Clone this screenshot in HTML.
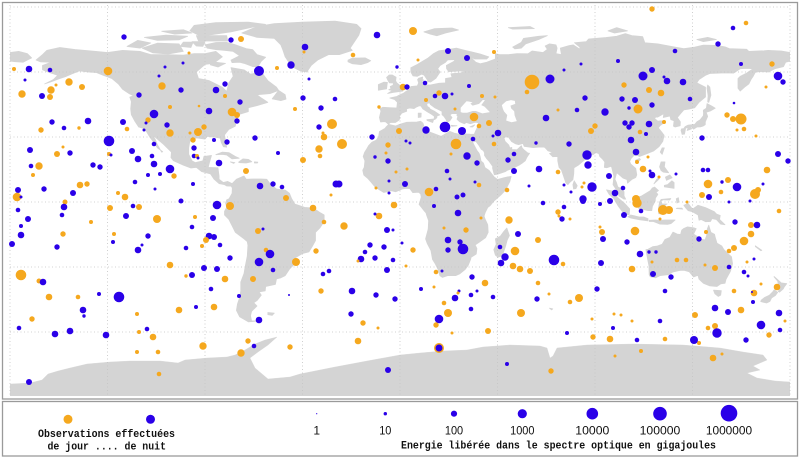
<!DOCTYPE html>
<html><head><meta charset="utf-8"><style>
html,body{margin:0;padding:0;background:#fff;}
svg{display:block;}
.o{fill:#f5a81e}
.b{fill:#2a00e8}
.l{fill:#d4d4d4;stroke:#d4d4d4;stroke-width:0.35;stroke-linejoin:round}
.w{fill:#fff}
.g{stroke:#c4c4c4;stroke-width:0.8;stroke-dasharray:1 2.5;fill:none}
.mono{font-family:"Liberation Mono",monospace;font-weight:bold;font-size:11px;fill:#111}
.num{font-family:"Liberation Sans",sans-serif;font-size:12px;fill:#111}
</style></head><body>
<svg width="800" height="458" viewBox="0 0 800 458" xmlns="http://www.w3.org/2000/svg">
<defs><clipPath id="mc"><rect x="10" y="5" width="780" height="391"/></clipPath></defs>
<rect x="0" y="0" width="800" height="458" fill="#fff"/>
<g clip-path="url(#mc)">
<g transform="translate(400,202) scale(2.1667,-2.1667)">
<!-- North America -->
<polygon class="l" points="-168,65.5 -165,68 -163,70 -157,71.3 -150,70.4 -141,69.6 -135,69 -128,70 -120,69.5 -115,68 -108,68 -100,67.8 -95,68.5 -90,68.5 -85,69.5 -82,67 -86,64 -90,63.5 -94,60 -93,57 -88,56 -82,53 -80,51 -79,55 -77,58 -78,62 -72,61 -69,59 -64,60 -61,56 -57,53 -56,51.5 -60,50 -66,49.5 -64,48 -61,46 -66,44.5 -70,43.5 -70,41.7 -74,40.5 -75.5,38 -76,35 -79,33.5 -81,31 -80.5,28 -80,25.3 -81.5,25.5 -82.5,27.5 -83,29.5 -85,29.8 -89,30.3 -90,29 -94,29.6 -97,28 -97.5,25 -97.5,22 -96,19 -94.5,18.2 -91,19 -90.5,21 -87,21.5 -88,18 -88.5,16 -84,15.8 -83.5,12 -83.5,10.5 -81.5,9 -79.5,9.5 -77.5,8.5 -78,7.3 -80,7.4 -81,8 -83.5,8.5 -85.8,10.5 -87.5,13 -91.5,14 -94,16 -96.5,15.7 -100,17 -104.5,19 -105.7,20.5 -105.5,23 -109,26.5 -112.5,29.5 -114.7,31.5 -113,29 -112,26.5 -110,23 -109.5,23.2 -112,25 -114,28 -115.5,30 -117,32.5 -118.5,34 -120.6,34.6 -122.5,37.5 -124,40.3 -124.3,43 -124,46.3 -124.7,48.4 -123,49 -125,50 -128,52 -130,54.5 -133,57 -137,58.5 -140,59.7 -144,60 -148,60.5 -151,59.3 -154,58 -157,57 -161,55.5 -164,54.5 -160,56.5 -158,58.5 -162,59.8 -165,61 -165,63 -161,64.5 -166,64.7"/>
<polygon class="l" points="-180,65 -180,69 -176,69.5 -172,68.5 -170,66.5 -172,65.5 -174,64.5 -178,64.8"/>
<!-- Arctic archipelago -->
<polygon class="l" points="-80,73.7 -76,72.6 -71,70.8 -68,70.3 -66,68 -62,66.8 -64,65 -65.5,62.5 -68,62.5 -72,64 -74,64.5 -77.5,64.3 -78,65.5 -74,67.5 -77,69.5 -81,70 -85,70.3 -89,71 -90,72.5 -85,73.6"/>
<polygon class="l" points="-119,71 -112,73.3 -102,73 -100,69.5 -107,68.3 -114,68.8"/>
<polygon class="l" points="-126,71.8 -121,74.6 -115,73.4 -120,71"/>
<polygon class="l" points="-92,76.5 -78,78.5 -62,82 -70,83 -85,82.8 -95,81.5 -97,79"/>
<polygon class="l" points="-94,76.8 -80,76.8 -79.5,74.3 -93,74.3"/>
<polygon class="l" points="-118,76 -108,77 -98,76.5 -102,74.8 -112,74.6"/>
<polygon class="l" points="-110,78.8 -100,79.5 -96,78 -104,77.5"/>
<polygon class="l" points="-101.5,71.8 -100,73.8 -95.5,73.8 -96.5,71.3"/>
<polygon class="l" points="-96,74 -90,74 -91,71.8 -94,72"/>
<polygon class="l" points="-87.5,64.8 -80.5,64 -84,62.3 -87.5,63.3"/>
<!-- Greenland, Iceland -->
<polygon class="l" points="-73,78 -66,81 -58,82.3 -45,83 -30,83.5 -20,82 -18,80 -19,77 -21,74 -23,71 -22,70 -28,68 -33,68 -38,65.5 -41,63 -43,60 -46,60.5 -49,62 -51,64 -53,67 -54,70 -55,72.5 -58,75.5 -66,76"/>
<polygon class="l" points="-24,65.5 -22,66.4 -16,66.5 -13.5,65.2 -15,64.3 -18,63.4 -22,63.8 -24,64.7"/>
<polygon class="l" points="-59,47.6 -56,51.5 -53,49.5 -52.6,47.5 -55,46.8"/>
<!-- Caribbean -->
<polygon class="l" points="-85,21.9 -82,23 -79,22.8 -76,21 -74.2,20.2 -77.5,19.9 -80,21.7 -82,22 -84.9,21.8"/>
<polygon class="l" points="-74.4,18.5 -72.5,19.9 -70,19.7 -68.4,18.6 -71,18 -74.4,18.2"/>
<polygon class="l" points="-78.3,18.5 -76.2,18.2 -76.8,17.8"/>
<polygon class="l" points="-67.2,18.5 -65.6,18.4 -65.8,18 -67.2,18"/>
<!-- South America -->
<polygon class="l" points="-77.5,8.5 -75.5,10.5 -72,12 -71,10.5 -68,10.6 -64,10.6 -61.5,10.5 -60,8.5 -57,6 -53,5.5 -51,4 -50,1.5 -48.5,-1 -44,-2.5 -40,-2.8 -37,-4.8 -35,-6 -35,-9 -37,-12 -39,-14 -39,-17.8 -40.5,-20.5 -42,-23 -45,-23.8 -48,-25.5 -48.6,-28.5 -51,-31 -53,-34 -55,-35 -57,-35.5 -57.5,-38 -62,-39 -62.2,-41 -65,-41.5 -64,-43 -66,-45.5 -67.5,-46.5 -66,-48 -68.5,-50.5 -69,-52.5 -68.5,-54.8 -66,-55 -70,-55.3 -74,-53 -75.5,-50 -75,-47 -74,-44 -73.5,-41 -73.5,-37 -72,-33 -71.5,-30 -70.5,-25 -70.2,-20 -70.5,-18.3 -72,-17 -76,-14 -77,-12 -79,-8 -81,-6 -81,-4.3 -80,-2.5 -80.5,-0.5 -80,1 -78.9,1.5 -77.5,4 -77.4,6.5 -77.9,7.3"/>
<polygon class="l" points="-61,-51 -58,-51.3 -59,-52.3 -61,-52"/>
<!-- Eurasia -->
<polygon class="l" points="-9,37 -9.5,39 -8.8,42 -9.3,43 -8,43.7 -4,43.5 -1.5,43.4 -1.2,46 -2.5,47.3 -4.7,48 -1.5,48.7 0,49.5 1.6,50.2 3,51.2 4.5,52 5,53.3 8,53.6 8.6,55 8.1,56.5 8.6,57.1 10.5,57.7 10.3,56.5 10.9,56.3 9.9,55.2 10,54.5 11,54 14,54 18,54.8 21,55 21,57 24,57.5 23.5,59.2 28,59.6 30,60 28.5,60.5 22.5,60.2 21.5,61.5 21.4,63 25,65 25.4,65.7 22,65.6 21,64.5 18.5,63 17.4,61.5 18.5,60 16.5,57 14.2,55.4 13,55.5 12.5,56.5 11.2,58.5 10,59 8,58 6,58.2 5,60 5,62 8,63.5 10,64.7 13,66.5 15.5,68.5 18,69.8 22,70.3 26,71 30,70 33,69.3 37,68.3 41,67 40,66 34.5,66 32.5,67 35,64.5 37,63.8 40,64.5 44,66 44,68.4 46,68 50,68 54,68.5 59,68.4 61,69.7 66,69 68,70.5 67,72 69,73 72,72.5 72.5,71 72,68.5 74.5,68 74,71 78,72.2 80,72.5 83,70.5 83,71.5 80.5,73.5 86,74 87,75.2 95,75.9 100,76.5 104,77.7 107,76.8 112,76.3 113,73.5 119,73 127,71.5 131,70.8 136,71.5 140,72.4 146,72.3 150,71.6 152,70.8 160,70.5 161,69.5 168,69.8 170,70 176,69.7 180,69 180,65 178,64.5 177,62.5 173,61.5 170,60 166,60.2 164,59.9 163,58 162,56.5 161,54.5 159,53 157,51.2 156,52.5 156,57 157,58 160,59.5 163,61.5 160,61.7 157,61.5 154,59.5 150,59.6 146,59.4 143,59.3 141,58.5 138,56.5 137,55 141,53 141,48.5 138,46 136,43.5 133,42.8 131,42.5 129.5,40.8 128,39 129.4,37 129.3,35.2 127,34.6 126.2,35 126.5,37.5 125,38 124.6,39.7 121.5,39 121.8,40.8 119,39.2 118,39.2 117.5,38.5 119,37.3 120.5,37.5 122.5,37 120,35.2 119.2,34.2 121,32 121.9,30.8 121.3,28 119.5,25.5 117,23.5 114,22.3 110.5,21 109.7,21.5 108,21.5 106.6,20 106,18.7 106.5,17.5 108.8,15.5 109.3,12.5 108.8,11.3 107,10.4 105,8.7 104.8,10.3 103,11 101,12.7 100,13.5 99.2,10.5 99.9,9 100.5,7 102,6.2 103.4,4.8 103.4,2.8 104.2,1.3 103.4,1.3 101,2.8 100.3,5 98.3,8 98.5,9.8 98.7,12 97.7,16 97.5,16.5 95.4,15.8 94.3,16 94.5,18.5 93.5,19.8 92.2,21 91.8,22.3 90.5,22.8 89,21.8 87,21.5 86.5,20.2 85,19.3 82.3,17 80.3,15.8 80.2,13 79.8,10.3 78.2,8.9 77.5,8 76.5,8.9 75.7,11.3 74.5,14.8 73.4,16 72.8,19 72.8,21 70.5,20.9 69,22.4 70.5,23 68.3,23.6 67.2,24.8 66.5,25.4 64,25.3 61.5,25.1 57.3,25.7 56.8,27 54.7,26.5 53.4,26.8 51.5,27.9 50,30 48.6,30 48,29.5 48.5,28 49.5,27 50.2,26.3 50.7,25 51.6,25.2 51.6,24.2 54,24.1 56,26 56.4,24.9 57.4,23.9 59,22.6 59.8,22.5 58.5,20.5 57.8,19 56.5,18 55.3,17.2 52.2,15.6 49.5,14.6 48.6,14 45,12.8 43.5,12.6 42.7,15.7 42.8,16.4 41.2,18.7 40,20 39,21.5 39,22.7 38.5,23.7 37.5,24.3 36.5,26 35,28 34.3,27.8 32.6,29.9 32.4,31.2 34.3,31.3 34.9,32.8 35.5,34 35.9,35.4 36.2,36.6 34.7,36.8 32.5,36.1 30.6,36.7 29.7,36.1 27.6,37 26.3,38.2 26.7,39.5 26.2,40.1 26.6,40.6 26,40.8 24,40.8 23,40.2 24,39 23,37.5 21.7,36.8 21.3,38 20.2,39.6 19.4,40.3 19.4,41.8 17.5,42.8 16,43.5 14,45 13.6,45.8 12.3,45.4 12.6,44.1 13.5,43.6 14,42.8 15.9,41.9 18.4,40.2 17,39.6 17,38.9 16,38 15.7,38.2 15.9,39.5 15,40.2 14,40.8 12.5,41.7 10.5,43 9.7,44.3 8.9,44.4 7.5,43.8 6.5,43.1 4.5,43.4 3,43 3.1,41.9 0.8,41 0,39.9 -0.3,39.3 0.1,38.7 -0.7,37.6 -2.1,36.7 -4.4,36.7 -5.4,35.9 -6.5,36.9 -7.4,37.1 -8.9,36.9"/>
<polygon class="l" points="10,55 12.6,55.6 12,54.6 10.8,54.9"/>
<polygon class="l" points="-5.7,50.1 -3,50.6 1.3,51.2 1.7,52.7 0.3,53.5 -1.5,55 -2,55.9 -1.8,57.6 -3.5,58.6 -5,58.6 -6.2,57.5 -5.5,56 -4.9,55 -3,54.9 -3.2,53.9 -4.5,53.3 -4.2,52.3 -5.2,51.8 -3.5,51.4"/>
<polygon class="l" points="-10,51.6 -6.2,52.2 -6,53.9 -5.8,55.2 -7.5,55.3 -10,54.2"/>
<polygon class="l" points="11,78.5 16,80 24,80.3 27,79.4 21,78 17,76.7 14,77.5"/>
<polygon class="l" points="52,71.5 56,73.7 57,75.5 64,76.5 68,76.8 64,75 58,73 56,71 53,70.7"/>
<polygon class="l" points="96,79 100,80.5 105,79 99,78"/>
<polygon class="l" points="137,75 142,76 146,75 140,74"/>
<polygon class="l" points="50,80.5 60,81 62,80 52,79.8"/>
<polygon class="l" points="142,54 143,53 143.5,49.3 142.5,46 142,46.2 142.2,49 141.7,52.5"/>
<polygon class="l" points="140,41.5 141.3,41.4 143.2,42 145.5,43.3 144,44.2 141.7,45.4 141.4,43.3 140,42.4"/>
<polygon class="l" points="141.3,41.4 142,39.5 140.9,37 140.9,35.7 139.8,35 138.8,34.7 137,34.6 135.5,33.6 135,34.6 133,34.3 131,34 131.6,34.8 133,35.5 136,35.8 137,37 138.6,38 140,39.8 140.1,41.2"/>
<polygon class="l" points="130,33.8 131.8,33.8 131.3,31.3 130.2,31.2 129.7,33.1"/>
<polygon class="l" points="132.5,33 134.7,33.8 134.2,34.3 132.9,34.1"/>
<polygon class="l" points="120.1,23 121,25 122,25 121,22"/>
<polygon class="l" points="108.6,19.2 110.5,20.1 111,19.6 109.5,18.2"/>
<polygon class="l" points="120.5,18.5 122.3,18.5 122,16.2 124,13.5 121.5,13.8 120.5,14.5 119.8,16.2"/>
<polygon class="l" points="122,7 126.5,6.3 126.5,9 125.5,9.8 123.5,8 122,7.7"/>
<polygon class="l" points="123,10 125.6,11.2 124.5,12.5 122.5,11.5"/>
<polygon class="l" points="117.2,8.4 119.5,10.5 119.8,11.5 118.5,10.5"/>
<polygon class="l" points="109,1.5 109.6,-1 110.2,-3 114.5,-4 116.2,-4 116.5,-2 117.8,0.5 117.9,1.8 119,3.5 118.2,4.5 119.3,5.3 117.5,6.9 116.5,6.5 115.5,5.2 113.5,4 111.5,2.8 109.6,2.2"/>
<polygon class="l" points="95.3,5.6 97.5,5.2 100.3,2.2 103.6,-0.6 106,-3.2 105.8,-5.8 104.5,-5.9 102.3,-4 100.8,-2 98.6,1.7 96.5,3.6"/>
<polygon class="l" points="105.2,-6.8 106.5,-6 110.5,-6.9 112.5,-6.9 114.5,-7.7 114.4,-8.7 110.5,-8.2 106.5,-7.4"/>
<polygon class="l" points="119.4,-5.4 120.4,-5.5 120.8,-2.6 122,-4.5 123,-4.6 121.5,-1.9 123.3,-0.9 121,-0.9 120.2,0.3 121.5,1 124.5,0.9 125,1.6 120.5,1.2 119.8,0 119.2,-3.5"/>
<polygon class="l" points="115,-8.4 118,-8.3 120,-8.5 122,-8.3 124,-8.3 125.5,-8.3 127,-8.3 125,-10 123.5,-10.3 120,-10.2 117,-9 115,-9"/>
<polygon class="l" points="131,-1.5 133,-0.7 135,-3.3 137.5,-1.5 141,-2.6 145,-4.4 146,-5.5 147.8,-6.2 147.5,-8 150,-10.5 148,-10.2 146,-8.1 144,-7.7 143.3,-9 141,-9.1 139,-8.1 138,-8.4 137.6,-6 135,-4.5 133,-4 132,-2.9"/>
<polygon class="l" points="127.5,-3 130.5,-3.3 130,-2.8 128,-2.8"/>
<polygon class="l" points="127.5,1.5 128.5,2 128.8,0 127.8,-0.5"/>
<polygon class="l" points="79.8,8 80.4,9.8 81.8,7.5 81.2,6.2 80.1,6"/>
<polygon class="l" points="12.4,38 15.6,38.3 15.1,36.7 12.5,37.6"/>
<polygon class="l" points="8.4,39 9.7,39.2 9.8,41 8.4,41"/>
<polygon class="l" points="23.5,35.4 26.3,35.2 24,34.9"/>
<polygon class="l" points="32.3,34.7 34.5,35.6 33.5,34.6"/>
<!-- Africa -->
<polygon class="l" points="-17,21 -16.2,19 -16.5,16 -17.2,14.7 -16.7,12.4 -15,11 -13.2,9 -11.5,6.9 -7.5,4.4 -4,5.2 -2,4.7 1,6 2.7,6.3 4.5,6.2 5.9,4.3 7,4.4 8.5,4.5 9.5,3.8 9.8,2.3 9.3,0.5 8.8,-1.1 11,-3.9 12,-5 12.3,-6.1 13.2,-8.6 13,-12.5 11.8,-17 12.5,-19 14.3,-22.5 15,-26.5 16.3,-28.6 17.5,-31 18.4,-34 19.6,-34.8 22,-34 25.7,-34 27.5,-33.2 30,-31.2 31.5,-29.2 32.6,-26.5 32.8,-25.5 35.2,-24 35.5,-21.5 34.7,-19.8 36.5,-18.6 39.5,-16.5 40.7,-14 40.5,-10.5 39.2,-7.7 38.8,-6.5 39.4,-4.7 40.5,-2.5 41.6,-1.7 43.2,0.3 46.5,3.2 48.7,5.5 50.7,9.5 51.3,11.8 49.7,11.6 48,11.2 45,10.4 43.5,11.5 42.7,12.5 41.2,14.5 39.2,15.9 38.5,18 37.4,18.9 37,21 36.5,22.5 35.5,23.8 34,26.6 33.5,28 32.6,29.9 32.3,31.3 30,31.4 29,30.9 25,31.8 23,32.6 20,30.9 19,30.3 15.5,31.6 11.5,33.1 10.3,33.8 11,35.2 10.6,36.4 9.5,37.3 7.8,36.9 3.1,36.8 0,35.9 -2,35.1 -5.2,35.8 -6.3,34.8 -6.9,34 -9.5,32.5 -9.9,30 -11,28.5 -13,27.6 -14.5,26 -15.4,24.4 -16.3,23"/>
<polygon class="l" points="49.3,-12 50.5,-15.5 49.5,-17.5 48.7,-20.5 47.2,-24.8 45.2,-25.5 44,-24.5 43.3,-22 44.4,-19.5 44,-17 46.3,-15.8 47.9,-13.6"/>
<!-- Australia / NZ -->
<polygon class="l" points="113.5,-22 114.2,-26 114.9,-29.5 115,-33.6 115.5,-34.5 118,-35 120,-34 124,-33.5 126,-32.3 129,-31.6 131,-31.5 133.5,-32.2 135.5,-34.6 137.5,-33.8 138,-35.6 140,-37.5 143,-38.7 146.3,-39 148,-37.8 150,-37.5 150.5,-35.6 152.5,-32 153.5,-28.5 153,-25.3 151,-23.5 149.5,-22 148.5,-20.3 146.3,-19 145.4,-16 145.2,-14.9 143.5,-14 142.5,-10.7 141.8,-12.5 141.5,-15.5 140.8,-17.5 139,-17.2 137,-15.8 135.5,-14.8 136.7,-12.3 135.5,-11.9 132.6,-11.5 131,-12.2 130,-13 129.5,-15 128,-14.8 126,-13.9 124.5,-16.4 122.3,-17.3 121,-19.5 118.8,-20.3 116.7,-20.6 114.5,-21.8"/>
<polygon class="l" points="144.7,-40.7 148.3,-40.9 148,-43 146.9,-43.6 145.3,-42.3"/>
<polygon class="l" points="172.7,-34.4 174.5,-36 175.9,-37.3 178.5,-37.7 177.4,-39.1 176.9,-40.1 175.2,-41.6 174.6,-41.3 175.2,-40.2 173.8,-39.2 174.6,-38 174.3,-36.5 172.6,-34.5"/>
<polygon class="l" points="172.7,-40.5 174.3,-41.7 173.2,-43.2 171.5,-44.3 170.7,-45.9 169.3,-46.6 166.5,-46 166.7,-45.3 168.4,-44 170.5,-43 172,-41.5"/>
<polygon class="l" points="164,-20.2 167,-22.3 166.5,-22.5 164,-20.6"/>
<polygon class="l" points="69,-49 70.5,-49.3 70,-49.8"/>
<!-- seas -->
<polygon class="w" points="28,41.5 28,43.5 29.6,45.3 30.7,46.5 31.7,46.4 33.5,46 32.5,45.4 33.5,44.5 35,44.9 36.5,45.3 38.2,47.1 39.2,47 37.5,44.7 39,44 41.5,41.5 38,40.9 35,42 33.5,42 31,41.2 29,41.2"/>
<polygon class="w" points="47,44.7 49,46.5 51.2,47 53,46.7 53.2,45.3 51,44.5 51.3,43.2 52.7,41.9 52.9,40 53.9,37.3 51.5,36.8 49,37.6 49.5,40.1 48,41.8 47.5,43"/>
</g>
<!-- Antarctica -->
<polygon class="l" points="10,384 30,383 42,380 48,374 58,371 70,368 87,364 110,362 130,361 160,361 178,363 185,360 207,358 227,357 235,355 245,350 255,344 265,340 277,337 268,345 258,352 250,358 255,368 268,379 290,377 300,374 320,370 335,367 367,361 400,355 420,353 443,351 467,350 483,347 510,345 540,346 547,348 550,358 553,356 557,348 587,345 633,344 683,345 720,348 743,352 763,355 767,360 753,366 760,370 747,373 757,378 775,381 790,382 790,397 10,397"/>
</g>
<!-- grid -->
<g class="g">
<line x1="10" y1="5" x2="10" y2="396"/>
<line x1="107.5" y1="5" x2="107.5" y2="396"/>
<line x1="205" y1="5" x2="205" y2="396"/>
<line x1="302.5" y1="5" x2="302.5" y2="396"/>
<line x1="400" y1="5" x2="400" y2="396"/>
<line x1="497.5" y1="5" x2="497.5" y2="396"/>
<line x1="595" y1="5" x2="595" y2="396"/>
<line x1="692.5" y1="5" x2="692.5" y2="396"/>
<line x1="790" y1="5" x2="790" y2="396"/>
<line x1="10" y1="7" x2="790" y2="7"/>
<line x1="10" y1="72" x2="790" y2="72"/>
<line x1="10" y1="137" x2="790" y2="137"/>
<line x1="10" y1="202" x2="790" y2="202"/>
<line x1="10" y1="267" x2="790" y2="267"/>
<line x1="10" y1="332" x2="790" y2="332"/>
</g>
<!-- dots -->
<g>
<circle class="b" cx="124" cy="37" r="2.7"/><circle class="b" cx="231" cy="40" r="2.7"/><circle class="o" cx="241" cy="39" r="3"/><circle class="b" cx="305" cy="47" r="3.3"/><circle class="o" cx="304" cy="52" r="1.5"/><circle class="b" cx="377" cy="35" r="3.3"/><circle class="o" cx="189" cy="53" r="1.5"/><circle class="o" cx="14" cy="69" r="2"/><circle class="b" cx="29" cy="69" r="3.3"/><circle class="b" cx="50" cy="70" r="2.3"/><circle class="o" cx="108" cy="71" r="4.3"/><circle class="b" cx="165" cy="67" r="1.5"/><circle class="b" cx="183" cy="63" r="1.5"/><circle class="b" cx="259" cy="71" r="5"/><circle class="o" cx="277" cy="68" r="2"/><circle class="b" cx="291" cy="65" r="3.7"/><circle class="o" cx="353" cy="55" r="2.3"/><circle class="b" cx="397" cy="67" r="1.7"/><circle class="b" cx="25" cy="80" r="1.5"/><circle class="o" cx="69" cy="82" r="3.7"/><circle class="o" cx="82" cy="87" r="3"/><circle class="o" cx="51" cy="90" r="3.7"/><circle class="o" cx="56" cy="85" r="1.5"/><circle class="o" cx="22" cy="94" r="3.7"/><circle class="b" cx="42" cy="96" r="3"/><circle class="o" cx="50" cy="97" r="3"/><circle class="b" cx="159" cy="76" r="1.5"/><circle class="o" cx="162" cy="86" r="3.7"/><circle class="b" cx="181" cy="90" r="2.7"/><circle class="b" cx="216" cy="90" r="3.3"/><circle class="b" cx="225" cy="84" r="2.7"/><circle class="o" cx="225" cy="96" r="2"/><circle class="b" cx="309" cy="79" r="1.5"/><circle class="b" cx="139" cy="95" r="2.7"/><circle class="b" cx="303" cy="98" r="2.7"/><circle class="b" cx="335" cy="99" r="2.3"/><circle class="b" cx="240" cy="102" r="2.7"/><circle class="o" cx="199" cy="106" r="1.3"/><circle class="o" cx="170" cy="107" r="2"/><circle class="b" cx="154" cy="114" r="4.3"/><circle class="b" cx="209" cy="111" r="3.3"/><circle class="o" cx="232" cy="112" r="4.3"/><circle class="o" cx="237" cy="115" r="3"/><circle class="b" cx="321" cy="108" r="2.7"/><circle class="o" cx="295" cy="109" r="2"/><circle class="o" cx="379" cy="107" r="1.7"/><circle class="b" cx="52" cy="122" r="2.7"/><circle class="b" cx="64" cy="128" r="2.3"/><circle class="o" cx="79" cy="128" r="1.7"/><circle class="b" cx="88" cy="121" r="3.3"/><circle class="b" cx="123" cy="122" r="3"/><circle class="o" cx="127" cy="129" r="2.3"/><circle class="o" cx="148" cy="120" r="2.7"/><circle class="b" cx="146" cy="123" r="1.5"/><circle class="b" cx="144" cy="130" r="1.5"/><circle class="b" cx="167" cy="125" r="2.7"/><circle class="o" cx="170" cy="133" r="3.7"/><circle class="o" cx="198" cy="132" r="4"/><circle class="o" cx="204" cy="127" r="2.7"/><circle class="b" cx="237" cy="121" r="2.7"/><circle class="o" cx="190" cy="133" r="1.5"/><circle class="o" cx="332" cy="124" r="5"/><circle class="b" cx="319" cy="127" r="2.7"/><circle class="o" cx="324" cy="137" r="3.3"/><circle class="o" cx="323" cy="133" r="1.5"/><circle class="o" cx="342" cy="144" r="5"/><circle class="b" cx="372" cy="137" r="2.7"/><circle class="o" cx="399" cy="131" r="3"/><circle class="b" cx="109" cy="141" r="5.3"/><circle class="o" cx="63" cy="147" r="1.5"/><circle class="b" cx="30" cy="150" r="3"/><circle class="b" cx="70" cy="153" r="2.7"/><circle class="o" cx="57" cy="154" r="3"/><circle class="o" cx="41" cy="130" r="2.7"/><circle class="o" cx="109" cy="154" r="2"/><circle class="b" cx="111" cy="155" r="1.5"/><circle class="b" cx="132" cy="151" r="3"/><circle class="b" cx="138" cy="159" r="3.3"/><circle class="b" cx="152" cy="156" r="2.3"/><circle class="b" cx="154" cy="144" r="2.3"/><circle class="b" cx="154" cy="164" r="3.3"/><circle class="b" cx="194" cy="148" r="2.7"/><circle class="b" cx="194" cy="156" r="2.3"/><circle class="o" cx="193" cy="140" r="2.7"/><circle class="o" cx="197" cy="156" r="2"/><circle class="b" cx="198" cy="158" r="1.5"/><circle class="b" cx="214" cy="140" r="2"/><circle class="b" cx="227" cy="142" r="2.7"/><circle class="b" cx="255" cy="138" r="2.7"/><circle class="b" cx="278" cy="153" r="2"/><circle class="o" cx="303" cy="160" r="3"/><circle class="o" cx="319" cy="149" r="3.7"/><circle class="o" cx="320" cy="156" r="2.3"/><circle class="o" cx="388" cy="145" r="2.7"/><circle class="o" cx="386" cy="153" r="1.5"/><circle class="b" cx="375" cy="157" r="1.7"/><circle class="b" cx="388" cy="161" r="2.7"/><circle class="o" cx="396" cy="172" r="1.5"/><circle class="b" cx="219" cy="163" r="3.3"/><circle class="b" cx="93" cy="165" r="2.7"/><circle class="b" cx="100" cy="167" r="2.7"/><circle class="o" cx="39" cy="166" r="3.7"/><circle class="b" cx="31" cy="166" r="2.3"/><circle class="o" cx="33" cy="175" r="2"/><circle class="b" cx="170" cy="169" r="4.3"/><circle class="o" cx="174" cy="176" r="2.7"/><circle class="b" cx="148" cy="175" r="2"/><circle class="b" cx="160" cy="174" r="2"/><circle class="b" cx="135" cy="182" r="2.3"/><circle class="o" cx="246" cy="171" r="3"/><circle class="b" cx="260" cy="186" r="3.3"/><circle class="b" cx="273" cy="184" r="2.7"/><circle class="b" cx="282" cy="187" r="2.3"/><circle class="b" cx="336" cy="184" r="3.5"/><circle class="b" cx="339" cy="184" r="3.5"/><circle class="o" cx="331" cy="195" r="1.5"/><circle class="b" cx="389" cy="193" r="1.5"/><circle class="b" cx="389" cy="181" r="1.5"/><circle class="b" cx="18" cy="190" r="3"/><circle class="o" cx="17" cy="197" r="4.3"/><circle class="b" cx="21" cy="197" r="1.5"/><circle class="b" cx="44" cy="189" r="2.7"/><circle class="b" cx="73" cy="193" r="3"/><circle class="o" cx="80" cy="185" r="3.3"/><circle class="o" cx="87" cy="184" r="2.7"/><circle class="b" cx="155" cy="189" r="1.5"/><circle class="o" cx="118" cy="193" r="2"/><circle class="o" cx="125" cy="197" r="3.3"/><circle class="b" cx="193" cy="184" r="2"/><circle class="o" cx="286" cy="198" r="3"/><circle class="o" cx="376" cy="188" r="1.5"/>
<circle class="o" cx="652" cy="9" r="2.7"/><circle class="o" cx="413" cy="31" r="4"/><circle class="b" cx="733" cy="28" r="2.3"/><circle class="o" cx="746" cy="23" r="2.3"/><circle class="b" cx="448" cy="51" r="3"/><circle class="o" cx="494" cy="52" r="2"/><circle class="b" cx="467" cy="58" r="3"/><circle class="o" cx="418" cy="60" r="1.5"/><circle class="b" cx="718" cy="44" r="2.7"/><circle class="b" cx="675" cy="51" r="2.3"/><circle class="b" cx="618" cy="61" r="2"/><circle class="b" cx="581" cy="64" r="1.5"/><circle class="b" cx="564" cy="70" r="1.5"/><circle class="b" cx="741" cy="64" r="2"/><circle class="o" cx="772" cy="64" r="2.7"/><circle class="b" cx="778" cy="76" r="4.3"/><circle class="b" cx="783" cy="82" r="2.7"/><circle class="o" cx="766" cy="87" r="1.5"/><circle class="b" cx="550" cy="79" r="4.5"/><circle class="o" cx="532" cy="82" r="7.3"/><circle class="o" cx="527" cy="92" r="2.3"/><circle class="b" cx="643" cy="76" r="4.5"/><circle class="b" cx="652" cy="70" r="3"/><circle class="b" cx="667" cy="81" r="3.3"/><circle class="b" cx="664" cy="77" r="1.5"/><circle class="b" cx="683" cy="82" r="3.3"/><circle class="o" cx="624" cy="85" r="2.7"/><circle class="o" cx="649" cy="90" r="3"/><circle class="o" cx="661" cy="93" r="3.3"/><circle class="o" cx="403" cy="87" r="3.3"/><circle class="b" cx="407" cy="87" r="2.7"/><circle class="b" cx="425" cy="83" r="2.3"/><circle class="b" cx="469" cy="86" r="2"/><circle class="o" cx="439" cy="93" r="2.7"/><circle class="b" cx="445" cy="96" r="3.3"/><circle class="b" cx="435" cy="96" r="2.3"/><circle class="b" cx="452" cy="94" r="1.5"/><circle class="o" cx="482" cy="96" r="2"/><circle class="o" cx="495" cy="97" r="1.5"/><circle class="o" cx="426" cy="100" r="2"/><circle class="b" cx="585" cy="98" r="2.7"/><circle class="b" cx="622" cy="99" r="2.7"/><circle class="b" cx="635" cy="100" r="3"/><circle class="b" cx="690" cy="99" r="2.3"/><circle class="b" cx="734" cy="103" r="1.3"/><circle class="b" cx="652" cy="105" r="2.7"/><circle class="o" cx="638" cy="109" r="4.5"/><circle class="b" cx="629" cy="108" r="1.7"/><circle class="b" cx="577" cy="110" r="2.3"/><circle class="o" cx="558" cy="110" r="1.5"/><circle class="b" cx="605" cy="112" r="3.7"/><circle class="o" cx="727" cy="115" r="2.7"/><circle class="o" cx="733" cy="119" r="3"/><circle class="o" cx="741" cy="119" r="5.5"/><circle class="o" cx="744" cy="129" r="2.3"/><circle class="o" cx="737" cy="130" r="1.5"/><circle class="o" cx="756" cy="136" r="1.5"/><circle class="o" cx="474" cy="117" r="4.3"/><circle class="o" cx="455" cy="109" r="1.5"/><circle class="b" cx="546" cy="118" r="3.3"/><circle class="o" cx="489" cy="123" r="3"/><circle class="o" cx="479" cy="126" r="2.3"/><circle class="b" cx="445" cy="127" r="5.3"/><circle class="b" cx="426" cy="130" r="3.7"/><circle class="b" cx="462" cy="131" r="4"/><circle class="b" cx="498" cy="133" r="3.3"/><circle class="b" cx="493" cy="136" r="1.5"/><circle class="o" cx="595" cy="126" r="2.7"/><circle class="o" cx="591" cy="131" r="3"/><circle class="b" cx="625" cy="123" r="2.7"/><circle class="b" cx="629" cy="127" r="2.7"/><circle class="b" cx="632" cy="123" r="2.7"/><circle class="b" cx="649" cy="124" r="3.3"/><circle class="o" cx="640" cy="132" r="2.3"/><circle class="b" cx="646" cy="134" r="2"/><circle class="o" cx="664" cy="122" r="2"/><circle class="b" cx="702" cy="138" r="2.7"/><circle class="b" cx="473" cy="139" r="2.3"/><circle class="b" cx="536" cy="143" r="1.7"/><circle class="b" cx="569" cy="144" r="2.7"/><circle class="b" cx="631" cy="140" r="3.3"/><circle class="o" cx="456" cy="144" r="5.3"/><circle class="o" cx="494" cy="144" r="2.3"/><circle class="b" cx="406" cy="141" r="1.5"/><circle class="b" cx="410" cy="143" r="1.5"/><circle class="o" cx="451" cy="154" r="1.5"/><circle class="b" cx="467" cy="156" r="3.7"/><circle class="b" cx="477" cy="163" r="2.7"/><circle class="b" cx="514" cy="154" r="2.3"/><circle class="b" cx="508" cy="160" r="2.7"/><circle class="b" cx="587" cy="155" r="4.7"/><circle class="b" cx="588" cy="165" r="3.7"/><circle class="b" cx="636" cy="152" r="3.3"/><circle class="o" cx="648" cy="157" r="1.5"/><circle class="o" cx="637" cy="162" r="2"/><circle class="b" cx="778" cy="154" r="3"/><circle class="b" cx="788" cy="161" r="2.7"/><circle class="b" cx="447" cy="171" r="2.3"/><circle class="b" cx="450" cy="179" r="1.5"/><circle class="b" cx="514" cy="171" r="3"/><circle class="b" cx="539" cy="169" r="3.3"/><circle class="o" cx="558" cy="172" r="2.3"/><circle class="o" cx="643" cy="169" r="3.3"/><circle class="b" cx="652" cy="175" r="3.3"/><circle class="b" cx="650" cy="171" r="1.5"/><circle class="o" cx="659" cy="177" r="1.5"/><circle class="b" cx="609" cy="176" r="3"/><circle class="b" cx="676" cy="174" r="1.5"/><circle class="b" cx="703" cy="170" r="2.3"/><circle class="b" cx="708" cy="170" r="2.3"/><circle class="o" cx="767" cy="170" r="3.3"/><circle class="o" cx="407" cy="169" r="1.5"/><circle class="b" cx="405" cy="184" r="3"/><circle class="o" cx="429" cy="192" r="4.3"/><circle class="b" cx="436" cy="189" r="2.3"/><circle class="b" cx="457" cy="197" r="2.5"/><circle class="b" cx="463" cy="195" r="2.5"/><circle class="o" cx="479" cy="185" r="2.3"/><circle class="b" cx="475" cy="182" r="1.5"/><circle class="o" cx="507" cy="190" r="2.3"/><circle class="b" cx="529" cy="186" r="1.5"/><circle class="b" cx="592" cy="187" r="4.7"/><circle class="o" cx="584" cy="183" r="1.5"/><circle class="o" cx="582" cy="187" r="1.5"/><circle class="b" cx="564" cy="185" r="1.5"/><circle class="b" cx="571" cy="192" r="1.5"/><circle class="b" cx="615" cy="193" r="3.3"/><circle class="b" cx="623" cy="188" r="2.3"/><circle class="o" cx="708" cy="184" r="4.3"/><circle class="o" cx="728" cy="180" r="3"/><circle class="b" cx="722" cy="182" r="1.7"/><circle class="b" cx="737" cy="187" r="4.3"/><circle class="o" cx="721" cy="192" r="2.3"/><circle class="o" cx="755" cy="194" r="5"/><circle class="o" cx="758" cy="190" r="3"/><circle class="b" cx="763" cy="184" r="1.5"/><circle class="o" cx="702" cy="195" r="3"/><circle class="b" cx="709" cy="197" r="3"/><circle class="b" cx="583" cy="199" r="3.7"/><circle class="o" cx="636" cy="199" r="4"/>
<circle class="b" cx="18" cy="210" r="2.3"/><circle class="b" cx="28" cy="219" r="3"/><circle class="o" cx="65" cy="202" r="2.5"/><circle class="b" cx="64" cy="207" r="3.3"/><circle class="b" cx="62" cy="215" r="2.3"/><circle class="b" cx="21" cy="226" r="2"/><circle class="b" cx="21" cy="235" r="3.3"/><circle class="b" cx="12" cy="244" r="3"/><circle class="o" cx="63" cy="234" r="2.7"/><circle class="b" cx="57" cy="247" r="2.7"/><circle class="o" cx="110" cy="208" r="3"/><circle class="b" cx="126" cy="216" r="3"/><circle class="o" cx="139" cy="207" r="3"/><circle class="o" cx="157" cy="219" r="4"/><circle class="b" cx="133" cy="206" r="2.3"/><circle class="o" cx="91" cy="222" r="2"/><circle class="b" cx="113" cy="242" r="2"/><circle class="o" cx="114" cy="234" r="2"/><circle class="b" cx="148" cy="236" r="2.7"/><circle class="b" cx="138" cy="250" r="3.3"/><circle class="b" cx="142" cy="245" r="1.5"/><circle class="b" cx="181" cy="201" r="2.5"/><circle class="o" cx="195" cy="217" r="2"/><circle class="b" cx="192" cy="227" r="2.3"/><circle class="b" cx="213" cy="218" r="3"/><circle class="b" cx="217" cy="205" r="4.3"/><circle class="o" cx="230" cy="206" r="4"/><circle class="b" cx="209" cy="236" r="3.3"/><circle class="b" cx="214" cy="237" r="3"/><circle class="o" cx="206" cy="240" r="3"/><circle class="o" cx="202" cy="246" r="2"/><circle class="b" cx="220" cy="245" r="2.3"/><circle class="b" cx="186" cy="248" r="2.3"/><circle class="b" cx="230" cy="258" r="2.7"/><circle class="o" cx="258" cy="231" r="3"/><circle class="b" cx="263" cy="229" r="1.5"/><circle class="o" cx="266" cy="250" r="2.3"/><circle class="b" cx="270" cy="254" r="4.3"/><circle class="b" cx="259" cy="262" r="4.3"/><circle class="b" cx="273" cy="270" r="2.3"/><circle class="o" cx="253" cy="279" r="3"/><circle class="o" cx="296" cy="262" r="4"/><circle class="o" cx="316" cy="251" r="2.7"/><circle class="o" cx="313" cy="208" r="3.3"/><circle class="o" cx="324" cy="222" r="2.3"/><circle class="o" cx="344" cy="226" r="3.7"/><circle class="o" cx="379" cy="216" r="3.3"/><circle class="b" cx="375" cy="214" r="1.5"/><circle class="o" cx="394" cy="205" r="3.3"/><circle class="b" cx="387" cy="230" r="3"/><circle class="b" cx="393" cy="230" r="1.5"/><circle class="b" cx="370" cy="245" r="2.7"/><circle class="b" cx="365" cy="252" r="2.3"/><circle class="b" cx="375" cy="258" r="2.7"/><circle class="b" cx="361" cy="259" r="3.3"/><circle class="o" cx="358" cy="261" r="1.5"/><circle class="b" cx="384" cy="247" r="2.7"/><circle class="b" cx="393" cy="260" r="2.3"/><circle class="b" cx="387" cy="270" r="3"/><circle class="b" cx="323" cy="274" r="2.3"/><circle class="b" cx="329" cy="271" r="2.3"/><circle class="o" cx="21" cy="275" r="5.3"/><circle class="o" cx="39" cy="281" r="2.5"/><circle class="b" cx="43" cy="282" r="3.3"/><circle class="o" cx="49" cy="297" r="3.3"/><circle class="o" cx="78" cy="297" r="2.3"/><circle class="b" cx="99" cy="294" r="2"/><circle class="b" cx="119" cy="297" r="5.3"/><circle class="b" cx="83" cy="310" r="3.3"/><circle class="b" cx="84" cy="316" r="1.7"/><circle class="o" cx="32" cy="319" r="2.7"/><circle class="b" cx="19" cy="328" r="2.3"/><circle class="b" cx="55" cy="334" r="3.3"/><circle class="b" cx="70" cy="331" r="3.3"/><circle class="b" cx="106" cy="335" r="3.3"/><circle class="o" cx="137" cy="314" r="2"/><circle class="b" cx="147" cy="329" r="2.3"/><circle class="o" cx="139" cy="332" r="2"/><circle class="o" cx="153" cy="337" r="3.3"/><circle class="o" cx="137" cy="352" r="2"/><circle class="o" cx="158" cy="352" r="2.3"/><circle class="o" cx="170" cy="265" r="3.3"/><circle class="o" cx="186" cy="276" r="1.7"/><circle class="b" cx="192" cy="275" r="3"/><circle class="b" cx="204" cy="268" r="3"/><circle class="b" cx="217" cy="269" r="3"/><circle class="o" cx="225" cy="279" r="3.3"/><circle class="b" cx="211" cy="289" r="2.3"/><circle class="b" cx="196" cy="307" r="2"/><circle class="o" cx="179" cy="310" r="3.3"/><circle class="o" cx="214" cy="307" r="3.3"/><circle class="b" cx="239" cy="296" r="2"/><circle class="b" cx="259" cy="320" r="3.3"/><circle class="b" cx="289" cy="295" r="1"/><circle class="o" cx="321" cy="291" r="2.7"/><circle class="b" cx="352" cy="291" r="3.3"/><circle class="b" cx="376" cy="295" r="2.7"/><circle class="b" cx="395" cy="299" r="2.7"/><circle class="b" cx="351" cy="314" r="2.7"/><circle class="o" cx="363" cy="323" r="2.7"/><circle class="o" cx="378" cy="328" r="1.5"/><circle class="o" cx="358" cy="341" r="3.3"/><circle class="o" cx="290" cy="347" r="2.7"/><circle class="o" cx="248" cy="341" r="2.7"/><circle class="b" cx="254" cy="346" r="2.3"/><circle class="o" cx="241" cy="353" r="3.7"/><circle class="o" cx="203" cy="346" r="3.7"/><circle class="o" cx="159" cy="374" r="2.3"/><circle class="b" cx="29" cy="382" r="3"/><circle class="b" cx="388" cy="370" r="3"/>
<circle class="b" cx="434" cy="206" r="2"/><circle class="b" cx="458" cy="213" r="3.3"/><circle class="o" cx="444" cy="228" r="1.5"/><circle class="o" cx="466" cy="230" r="2.7"/><circle class="o" cx="481" cy="218" r="1.5"/><circle class="b" cx="448" cy="240" r="3.3"/><circle class="b" cx="448" cy="250" r="2.7"/><circle class="b" cx="460" cy="242" r="2.7"/><circle class="b" cx="463" cy="249" r="5.3"/><circle class="b" cx="402" cy="243" r="1.5"/><circle class="o" cx="413" cy="250" r="2.7"/><circle class="o" cx="406" cy="266" r="1.5"/><circle class="o" cx="436" cy="272" r="2.3"/><circle class="b" cx="442" cy="271" r="1.5"/><circle class="b" cx="472" cy="277" r="2.7"/><circle class="o" cx="485" cy="283" r="3.3"/><circle class="b" cx="421" cy="289" r="2"/><circle class="o" cx="434" cy="287" r="1.5"/><circle class="b" cx="459" cy="291" r="1.5"/><circle class="b" cx="477" cy="291" r="1.5"/><circle class="o" cx="458" cy="293" r="1.5"/><circle class="b" cx="455" cy="298" r="3.3"/><circle class="b" cx="471" cy="295" r="2.3"/><circle class="b" cx="493" cy="297" r="2.3"/><circle class="b" cx="471" cy="309" r="2.3"/><circle class="o" cx="444" cy="303" r="2.3"/><circle class="o" cx="448" cy="313" r="4"/><circle class="b" cx="439" cy="319" r="4.3"/><circle class="o" cx="436" cy="325" r="2.7"/><circle class="o" cx="452" cy="333" r="1.5"/><circle class="o" cx="488" cy="331" r="3"/><circle class="o" cx="439" cy="348" r="5"/><circle class="b" cx="439" cy="348" r="3.5"/><circle class="b" cx="507" cy="364" r="2"/><circle class="o" cx="551" cy="371" r="2.7"/><circle class="b" cx="500" cy="247" r="2.3"/><circle class="b" cx="505" cy="257" r="3.7"/><circle class="b" cx="501" cy="263" r="3.3"/><circle class="o" cx="515" cy="251" r="4.3"/><circle class="b" cx="518" cy="234" r="3"/><circle class="o" cx="509" cy="220" r="3.7"/><circle class="b" cx="543" cy="203" r="2.3"/><circle class="b" cx="564" cy="207" r="2.3"/><circle class="o" cx="558" cy="212" r="2.7"/><circle class="o" cx="559" cy="216" r="1.5"/><circle class="b" cx="562" cy="219" r="2.7"/><circle class="o" cx="570" cy="219" r="1.5"/><circle class="b" cx="583" cy="201" r="3"/><circle class="b" cx="600" cy="204" r="2"/><circle class="b" cx="610" cy="201" r="3"/><circle class="o" cx="637" cy="203" r="4.7"/><circle class="o" cx="663" cy="210" r="5"/><circle class="o" cx="669" cy="210" r="4"/><circle class="b" cx="641" cy="211" r="2.3"/><circle class="o" cx="687" cy="202" r="1.5"/><circle class="b" cx="729" cy="202" r="1.5"/><circle class="b" cx="750" cy="201" r="1.5"/><circle class="o" cx="779" cy="211" r="2.3"/><circle class="b" cx="624" cy="215" r="3"/><circle class="o" cx="660" cy="219" r="1.5"/><circle class="b" cx="554" cy="260" r="5.3"/><circle class="o" cx="513" cy="266" r="3.3"/><circle class="o" cx="520" cy="269" r="3.3"/><circle class="o" cx="530" cy="271" r="3"/><circle class="o" cx="538" cy="283" r="2.3"/><circle class="o" cx="538" cy="240" r="3"/><circle class="o" cx="563" cy="264" r="2.3"/><circle class="o" cx="602" cy="232" r="3"/><circle class="o" cx="600" cy="227" r="1.5"/><circle class="b" cx="603" cy="239" r="3"/><circle class="b" cx="627" cy="242" r="2.7"/><circle class="o" cx="635" cy="231" r="4.3"/><circle class="b" cx="601" cy="263" r="3"/><circle class="b" cx="640" cy="254" r="3.3"/><circle class="b" cx="649" cy="252" r="1.7"/><circle class="b" cx="656" cy="252" r="1.7"/><circle class="o" cx="652" cy="262" r="1.5"/><circle class="o" cx="632" cy="269" r="3.3"/><circle class="b" cx="653" cy="274" r="3"/><circle class="b" cx="671" cy="277" r="2.7"/><circle class="o" cx="677" cy="260" r="2.3"/><circle class="o" cx="686" cy="260" r="2.3"/><circle class="b" cx="735" cy="222" r="2.7"/><circle class="o" cx="751" cy="225" r="3"/><circle class="b" cx="757" cy="225" r="3.3"/><circle class="o" cx="751" cy="234" r="3.3"/><circle class="o" cx="744" cy="241" r="4.3"/><circle class="o" cx="734" cy="248" r="3"/><circle class="o" cx="729" cy="251" r="2.3"/><circle class="o" cx="706" cy="232" r="2"/><circle class="b" cx="699" cy="239" r="2.7"/><circle class="o" cx="747" cy="262" r="1.5"/><circle class="b" cx="754" cy="259" r="1.5"/><circle class="o" cx="705" cy="265" r="1.5"/><circle class="o" cx="715" cy="268" r="3"/><circle class="b" cx="729" cy="267" r="2.3"/><circle class="b" cx="744" cy="272" r="2.3"/><circle class="b" cx="748" cy="276" r="1.5"/><circle class="o" cx="761" cy="284" r="1.5"/><circle class="o" cx="777" cy="287" r="3.3"/><circle class="o" cx="734" cy="291" r="2.3"/><circle class="o" cx="754" cy="293" r="3.3"/><circle class="b" cx="752" cy="292" r="1"/><circle class="b" cx="753" cy="302" r="2"/><circle class="b" cx="597" cy="289" r="2.7"/><circle class="b" cx="665" cy="291" r="2.3"/><circle class="o" cx="570" cy="302" r="2.3"/><circle class="o" cx="579" cy="298" r="4"/><circle class="b" cx="537" cy="299" r="2.7"/><circle class="o" cx="549" cy="294" r="1.5"/><circle class="o" cx="521" cy="313" r="4"/><circle class="b" cx="715" cy="308" r="3.3"/><circle class="b" cx="728" cy="312" r="3"/><circle class="o" cx="741" cy="310" r="3.3"/><circle class="b" cx="779" cy="313" r="3.3"/><circle class="o" cx="785" cy="321" r="1.5"/><circle class="o" cx="592" cy="319" r="1.5"/><circle class="o" cx="614" cy="314" r="1.5"/><circle class="o" cx="621" cy="315" r="1.5"/><circle class="o" cx="632" cy="321" r="1.5"/><circle class="b" cx="660" cy="321" r="2.3"/><circle class="o" cx="695" cy="315" r="3"/><circle class="b" cx="613" cy="328" r="2"/><circle class="b" cx="567" cy="333" r="2"/><circle class="o" cx="593" cy="337" r="2.7"/><circle class="o" cx="610" cy="339" r="3.3"/><circle class="b" cx="637" cy="340" r="2.3"/><circle class="o" cx="665" cy="339" r="2.3"/><circle class="o" cx="699" cy="343" r="2"/><circle class="b" cx="694" cy="340" r="4"/><circle class="o" cx="708" cy="328" r="2.3"/><circle class="o" cx="715" cy="326" r="3"/><circle class="b" cx="717" cy="333" r="4.7"/><circle class="b" cx="746" cy="340" r="2.7"/><circle class="b" cx="761" cy="325" r="4.3"/><circle class="b" cx="780" cy="330" r="2.3"/><circle class="o" cx="769" cy="335" r="2.7"/><circle class="o" cx="615" cy="356" r="1.5"/><circle class="o" cx="641" cy="351" r="2"/><circle class="o" cx="713" cy="358" r="3.3"/><circle class="o" cx="722" cy="354" r="1.5"/>
</g>
<!-- frames -->
<rect x="2.5" y="2.5" width="795" height="396.5" fill="none" stroke="#9a9a9a" stroke-width="1.3"/>
<rect x="2.5" y="401.5" width="795" height="54.5" fill="none" stroke="#9a9a9a" stroke-width="1.3"/>
<!-- legend -->
<circle class="o" cx="68" cy="419.3" r="4.5"/>
<circle class="b" cx="150.5" cy="419.3" r="4.5"/>
<text class="mono" x="38" y="437" textLength="137" lengthAdjust="spacingAndGlyphs">Observations effectuées</text>
<text class="mono" x="47.5" y="449.5" textLength="118.5" lengthAdjust="spacingAndGlyphs">de jour .... de nuit</text>
<circle class="b" cx="316.7" cy="413.7" r="0.6"/>
<circle class="b" cx="385.3" cy="413.7" r="1.7"/>
<circle class="b" cx="454" cy="413.7" r="3.1"/>
<circle class="b" cx="522.3" cy="413.7" r="4.6"/>
<circle class="b" cx="592.3" cy="413.7" r="5.8"/>
<circle class="b" cx="660" cy="413.7" r="6.8"/>
<circle class="b" cx="729" cy="413.2" r="8.3"/>
<text class="num" x="316.7" y="434.7" text-anchor="middle">1</text>
<text class="num" x="385.3" y="434.7" text-anchor="middle" textLength="12.2" lengthAdjust="spacingAndGlyphs">10</text>
<text class="num" x="454" y="434.7" text-anchor="middle" textLength="18.3" lengthAdjust="spacingAndGlyphs">100</text>
<text class="num" x="522.3" y="434.7" text-anchor="middle" textLength="24.4" lengthAdjust="spacingAndGlyphs">1000</text>
<text class="num" x="592.3" y="434.7" text-anchor="middle" textLength="34" lengthAdjust="spacingAndGlyphs">10000</text>
<text class="num" x="660" y="434.7" text-anchor="middle" textLength="40.7" lengthAdjust="spacingAndGlyphs">100000</text>
<text class="num" x="729" y="434.7" text-anchor="middle" textLength="46.3" lengthAdjust="spacingAndGlyphs">1000000</text>
<text class="mono" x="401" y="448.7" textLength="315" lengthAdjust="spacingAndGlyphs">Energie libérée dans le spectre optique en gigajoules</text>
</svg>
</body></html>
